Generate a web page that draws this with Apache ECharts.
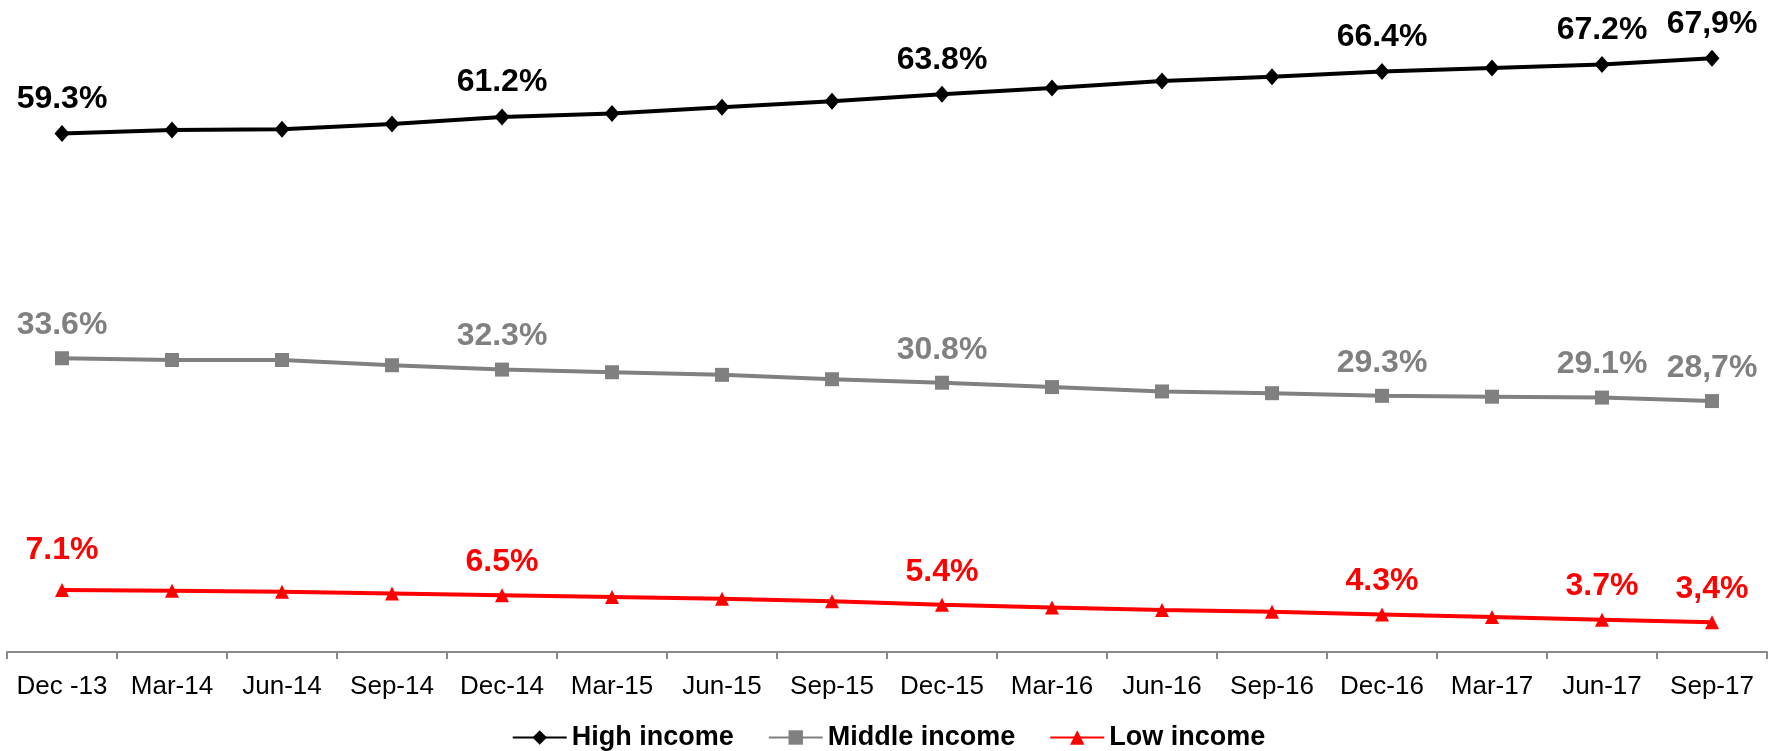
<!DOCTYPE html>
<html>
<head>
<meta charset="utf-8">
<title>Income share</title>
<script src="https://cdn.jsdelivr.net/npm/echarts@6/dist/echarts.min.js"></script>
<style>
  html, body { margin: 0; padding: 0; background: #fff; }
  #chart { width: 1777px; height: 751px; }
</style>
</head>
<body>
<div id="chart"></div>
<script>
// categories (quarters)
var quarters = ["Dec -13", "Mar-14", "Jun-14", "Sep-14", "Dec-14", "Mar-15", "Jun-15", "Sep-15",
  "Dec-15", "Mar-16", "Jun-16", "Sep-16", "Dec-16", "Mar-17", "Jun-17", "Sep-17"];

// shares in %
var highIncome = [59.3, 59.7, 59.8, 60.4, 61.2, 61.6, 62.3, 63.0, 63.8, 64.5, 65.3, 65.8, 66.4, 66.8, 67.2, 67.9];
var middleIncome = [33.6, 33.4, 33.4, 32.8, 32.3, 32.0, 31.7, 31.2, 30.8, 30.3, 29.8, 29.6, 29.3, 29.2, 29.1, 28.7];
var lowIncome = [7.1, 7.0, 6.9, 6.7, 6.5, 6.3, 6.1, 5.8, 5.4, 5.1, 4.8, 4.6, 4.3, 4.0, 3.7, 3.4];

// which points carry a value label
var labelIdx = [0, 4, 8, 12, 14, 15];

var FONT = "'Liberation Sans', Arial, sans-serif";

function fmt(p) {
  if (labelIdx.indexOf(p.dataIndex) < 0) return "";
  var v = typeof p.value === "object" ? p.value.value : p.value;
  var s = Number(v).toFixed(1) + "%";
  // last quarter is written with a comma in the original
  if (p.dataIndex === quarters.length - 1) s = s.replace(".", ",");
  return s;
}

function makeSeries(name, data, color, symbol, size) {
  return {
    name: name,
    type: "line",
    data: data,
    symbol: symbol,
    symbolSize: size,
    showAllSymbol: true,
    lineStyle: { color: color, width: 4 },
    itemStyle: { color: color },
    label: {
      show: true,
      position: "top",
      distance: 10,
      formatter: fmt,
      color: color,
      fontFamily: FONT,
      fontWeight: "bold",
      fontSize: 32
    }
  };
}

var chartDom = document.getElementById("chart");
var myChart = echarts.init(chartDom);

var lowSeries = makeSeries("Low income", lowIncome, "#ff0000", "triangle", 14);
// first low label sits a bit higher
lowSeries.data = lowIncome.map(function (v, i) {
  return i === 0 ? { value: v, label: { distance: 17 } } : v;
});

var option = {
  animation: false,
  backgroundColor: "#ffffff",
  grid: { left: 7, right: 10, top: 40, bottom: 99 },
  legend: {
    top: 719,
    left: "center",
    itemWidth: 54,
    itemHeight: 18,
    itemGap: 34,
    textStyle: { color: "#000", fontFamily: FONT, fontWeight: "bold", fontSize: 27 },
    data: ["High income", "Middle income", "Low income"]
  },
  xAxis: {
    type: "category",
    data: quarters,
    boundaryGap: true,
    axisLine: { lineStyle: { color: "#898989", width: 2 } },
    axisTick: { show: true, length: 7, lineStyle: { color: "#898989", width: 2 } },
    axisLabel: {
      color: "#000",
      fontFamily: FONT,
      fontSize: 26,
      margin: 22,
      interval: 0
    }
  },
  yAxis: {
    type: "value",
    min: 0,
    max: 70,
    show: false,
    splitLine: { show: false }
  },
  series: [
    makeSeries("High income", highIncome, "#000000", "diamond", [15, 17]),
    makeSeries("Middle income", middleIncome, "#808080", "rect", 14),
    lowSeries
  ]
};

myChart.setOption(option);
</script>
</body>
</html>
